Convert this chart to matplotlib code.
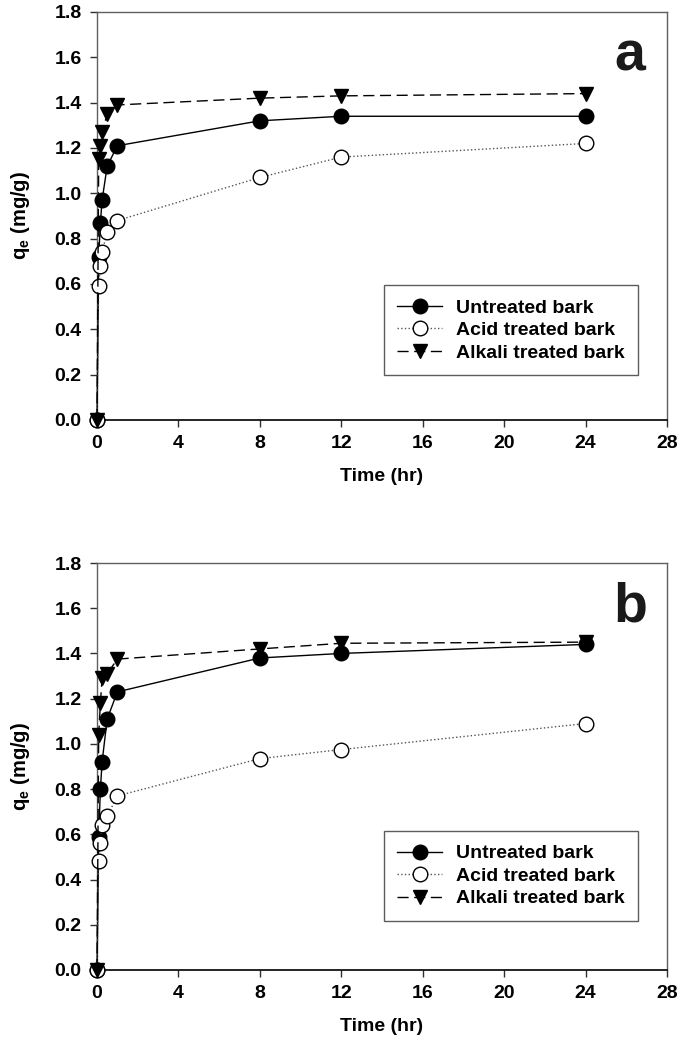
import matplotlib
matplotlib.use("Agg")
import matplotlib.pyplot as plt

plt.rcParams['font.family'] = ['Liberation Sans', 'DejaVu Sans']
plt.rcParams['font.weight'] = 'bold'
plt.rcParams['mathtext.fontset'] = 'custom'
plt.rcParams['mathtext.rm'] = 'Liberation Sans:bold'
plt.rcParams['mathtext.it'] = 'Liberation Sans:bold'
plt.rcParams['mathtext.bf'] = 'Liberation Sans:bold'

time_hr = [0, 0.083, 0.167, 0.25, 0.5, 1, 8, 12, 24]

untreated_a = [0, 0.72, 0.87, 0.97, 1.12, 1.21, 1.32, 1.34, 1.34]
acid_a = [0, 0.59, 0.68, 0.74, 0.83, 0.88, 1.07, 1.16, 1.22]
alkali_a = [0, 1.15, 1.21, 1.27, 1.35, 1.39, 1.42, 1.43, 1.44]

untreated_b = [0, 0.59, 0.80, 0.92, 1.11, 1.23, 1.38, 1.40, 1.44]
acid_b = [0, 0.48, 0.56, 0.64, 0.68, 0.77, 0.935, 0.975, 1.09]
alkali_b = [0, 1.04, 1.18, 1.29, 1.31, 1.375, 1.42, 1.445, 1.45]

labels = ['Untreated bark', 'Acid treated bark', 'Alkali treated bark']
x_ticks = [0, 4, 8, 12, 16, 20, 24, 28]
y_ticks = [0.0, 0.2, 0.4, 0.6, 0.8, 1.0, 1.2, 1.4, 1.6, 1.8]
panel_letters = ['a', 'b']

fig = plt.figure(figsize=(6.85, 10.59), dpi=100)
W, H = 685, 1059
axes_boxes = [(97, 12, 667, 420), (97, 563, 667, 970)]
legend_tops = [0.330, 0.341]
datasets = [(untreated_a, acid_a, alkali_a), (untreated_b, acid_b, alkali_b)]

FS = 14

for (l, t, r, b), (u, ac, al), letter, lt in zip(axes_boxes, datasets, panel_letters, legend_tops):
    ax = fig.add_axes([l / W, 1 - b / H, (r - l) / W, (b - t) / H])
    ax.plot(time_hr, u, '-', color='black', lw=1.0, marker='o', ms=10.5,
            mfc='black', mec='black', label=labels[0], clip_on=False, zorder=3)
    ax.plot(time_hr, ac, ':', color='#555555', lw=1.0, marker='o', ms=10.5,
            mfc='white', mec='black', mew=1.0, label=labels[1], clip_on=False, zorder=3)
    ax.plot(time_hr, al, color='black', lw=1.0, dashes=(8, 4), marker='v', ms=10.5,
            mfc='black', mec='black', label=labels[2], clip_on=False, zorder=3)
    ax.set_xlim(0, 28)
    ax.set_ylim(0, 1.8)
    ax.set_xticks(x_ticks)
    ax.set_yticks(y_ticks)
    ax.set_yticklabels([f'{v:.1f}' for v in y_ticks])
    ax.tick_params(axis='both', direction='out', length=5, width=1.0, labelsize=FS,
                   color='#303030', pad=6)
    for lab in ax.get_xticklabels() + ax.get_yticklabels():
        lab.set_fontweight('bold')
    for side in ['top', 'right', 'left']:
        ax.spines[side].set_color('#606060')
        ax.spines[side].set_linewidth(1.0)
    ax.spines['bottom'].set_color('black')
    ax.spines['bottom'].set_linewidth(1.2)
    ax.set_xlabel('Time (hr)', fontsize=FS, fontweight='bold', labelpad=11)
    ax.set_ylabel('q$_{e}$ (mg/g)', fontsize=FS + 0.5, fontweight='bold', labelpad=16)
    ax.text(0.935, 0.955, letter, transform=ax.transAxes, fontsize=40,
            fontweight='bold', ha='center', va='top', color='#1a1a1a')
    leg = ax.legend(loc='upper right', bbox_to_anchor=(0.949, lt), fontsize=FS,
                    frameon=True, fancybox=False, edgecolor='#333333',
                    handlelength=2.3, handletextpad=0.7, labelspacing=0.25,
                    borderpad=0.7, borderaxespad=0)
    leg.get_frame().set_linewidth(1.0)
    for txt in leg.get_texts():
        txt.set_fontweight('bold')

fig.savefig('out.png', dpi=100)
